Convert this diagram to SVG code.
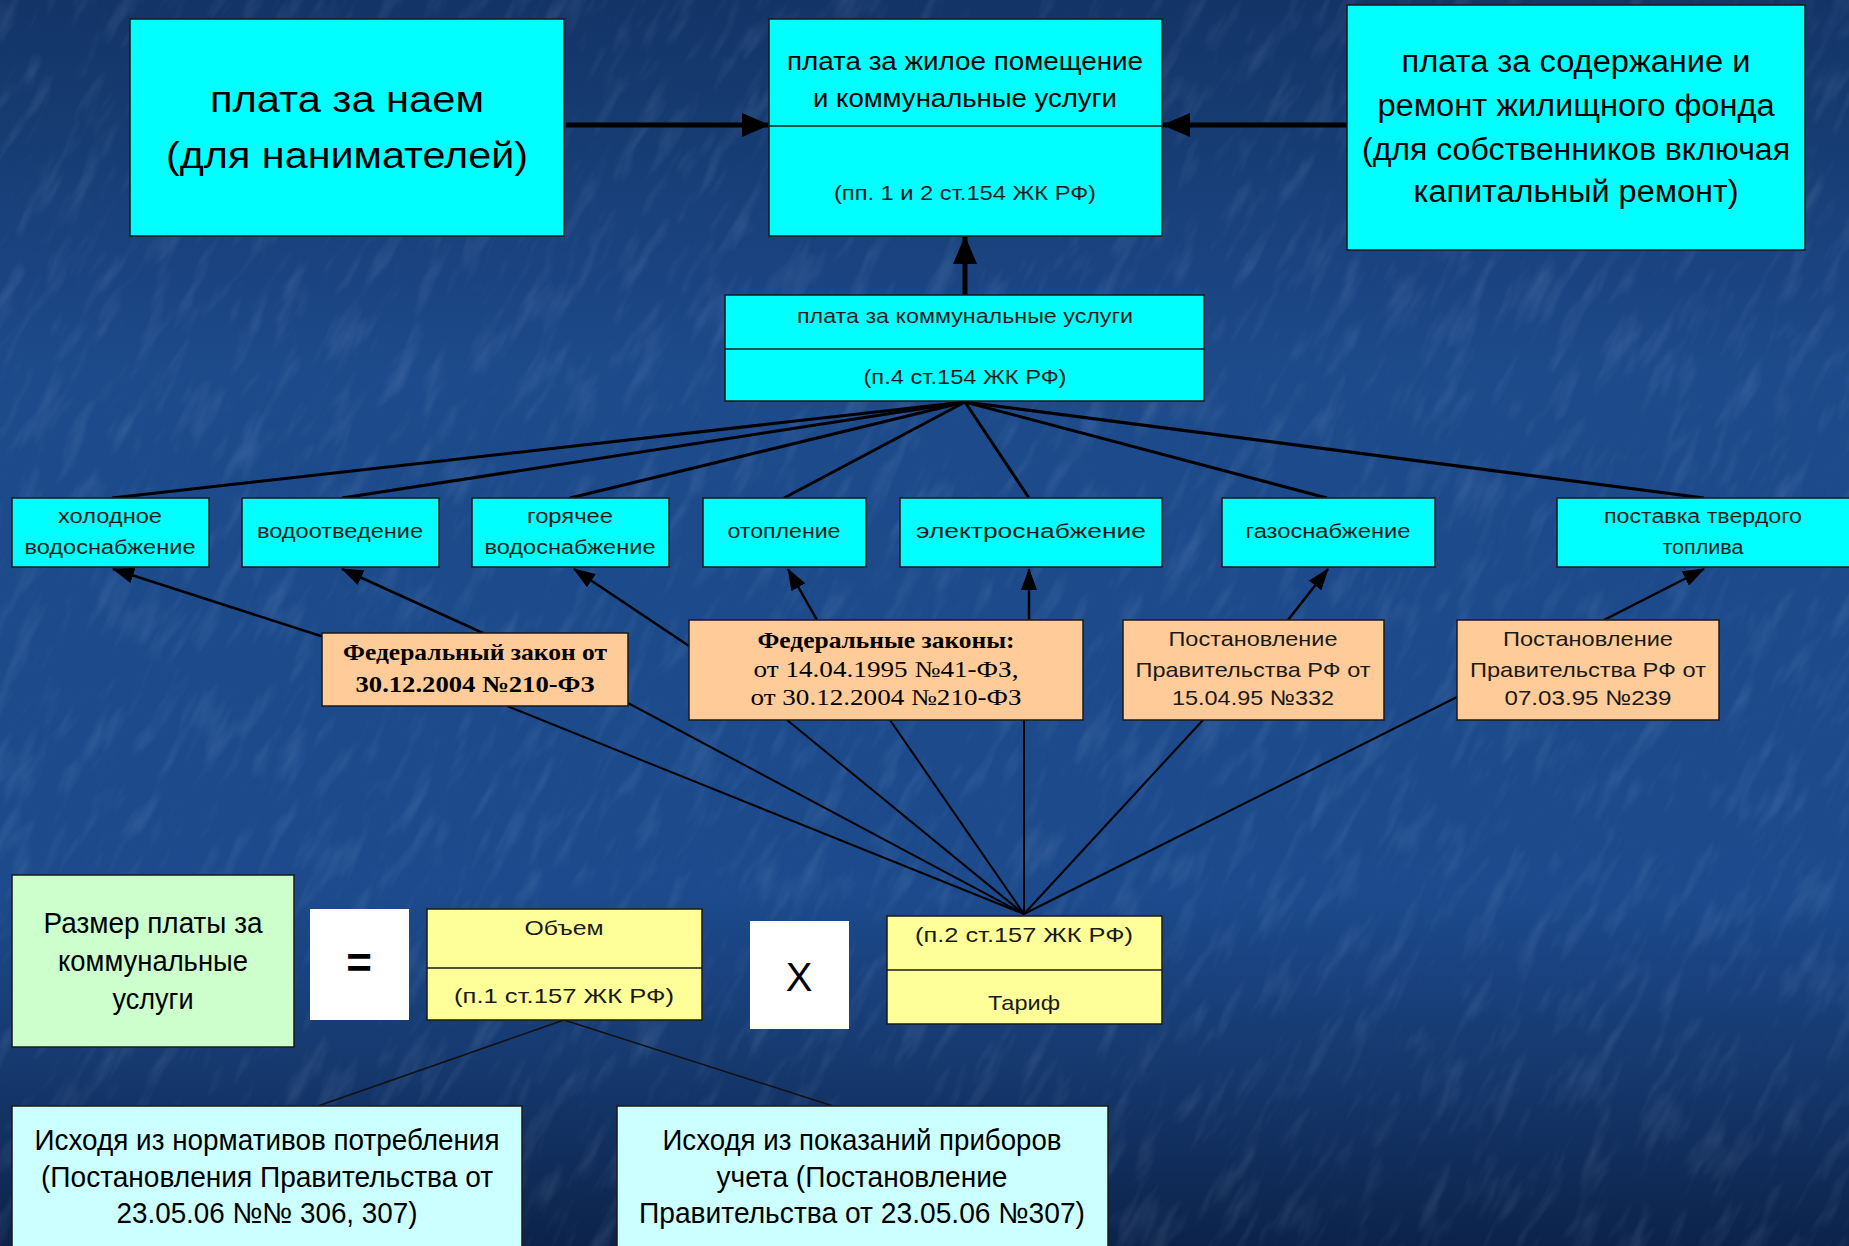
<svg xmlns="http://www.w3.org/2000/svg" width="1849" height="1246" viewBox="0 0 1849 1246">
  <style>
    .box { stroke: #1a1a1a; stroke-width: 1.5; }
    .cyan { fill: #00ffff; }
    .peach { fill: #ffcc99; }
    .yellow { fill: #ffff99; }
    .green { fill: #ccffcc; }
    .lcyan { fill: #ccffff; }
    .white { fill: #ffffff; stroke: none; }
    .div { stroke: #1a1a1a; stroke-width: 1.5; }
    text { font-family: "Liberation Sans", Arial, sans-serif; fill: #000; text-anchor: middle; }
    .light { fill: #1a1a1a; }
    .serif { font-family: "Liberation Serif", "Times New Roman", serif; }
    .thick { stroke: #000; stroke-width: 5; fill: none; }
    .fan { stroke: #000; stroke-width: 3; fill: none; }
    .thin { stroke: #000; stroke-width: 2.5; fill: none; }
    .hub { stroke: #000; stroke-width: 2; fill: none; }
    .fine { stroke: #111; stroke-width: 1.5; fill: none; }
  </style>
  <defs>
    <linearGradient id="bg" x1="0" y1="0" x2="0" y2="1">
      <stop offset="0" stop-color="#133466"/>
      <stop offset="0.3" stop-color="#1d4a8a"/>
      <stop offset="0.72" stop-color="#1c4a8c"/>
      <stop offset="0.85" stop-color="#16396f"/>
      <stop offset="1" stop-color="#0c2349"/>
    </linearGradient>
    <filter id="tex" x="0" y="0" width="100%" height="100%">
      <feTurbulence type="fractalNoise" baseFrequency="0.015 0.06" numOctaves="3" seed="4"/>
      <feColorMatrix type="matrix" values="0 0 0 0 0.6  0 0 0 0 0.75  0 0 0 0 1  0 0 0 1.4 -0.7"/>
    </filter>
    <marker id="ahb" viewBox="0 0 28 24" refX="27" refY="12" markerWidth="28" markerHeight="24" markerUnits="userSpaceOnUse" orient="auto">
      <path d="M0,0 L28,12 L0,24 z" fill="#000"/>
    </marker>
    <marker id="ah" viewBox="0 0 22 16" refX="21" refY="8" markerWidth="22" markerHeight="16" markerUnits="userSpaceOnUse" orient="auto">
      <path d="M0,0 L22,8 L0,16 z" fill="#000"/>
    </marker>
  </defs>

  <rect x="0" y="0" width="1849" height="1246" fill="url(#bg)"/>
  <g transform="rotate(-62 924 623)" opacity="0.2">
    <rect x="-600" y="-600" width="3050" height="2450" filter="url(#tex)"/>
  </g>

  <g id="connectors">
    <line class="thick" x1="566" y1="125" x2="769" y2="125" marker-end="url(#ahb)"/>
    <line class="thick" x1="1347" y1="125" x2="1163" y2="125" marker-end="url(#ahb)"/>
    <line class="thick" x1="965" y1="295" x2="965" y2="237" marker-end="url(#ahb)"/>

    <line class="fan" x1="965" y1="402" x2="112" y2="498"/>
    <line class="fan" x1="965" y1="402" x2="342" y2="498"/>
    <line class="fan" x1="965" y1="402" x2="570" y2="498"/>
    <line class="fan" x1="965" y1="402" x2="784" y2="498"/>
    <line class="fan" x1="965" y1="402" x2="1029" y2="498"/>
    <line class="fan" x1="965" y1="402" x2="1327" y2="498"/>
    <line class="fan" x1="965" y1="402" x2="1704" y2="498"/>

    <line class="thin" x1="324" y1="637" x2="113" y2="569" marker-end="url(#ah)"/>
    <line class="thin" x1="483" y1="633" x2="342" y2="569" marker-end="url(#ah)"/>
    <line class="thin" x1="689" y1="646" x2="574" y2="569" marker-end="url(#ah)"/>
    <line class="thin" x1="817" y1="620" x2="788" y2="569" marker-end="url(#ah)"/>
    <line class="thin" x1="1029" y1="620" x2="1029" y2="569" marker-end="url(#ah)"/>
    <line class="thin" x1="1288" y1="620" x2="1328" y2="569" marker-end="url(#ah)"/>
    <line class="thin" x1="1604" y1="620" x2="1704" y2="569" marker-end="url(#ah)"/>

    <line class="hub" x1="1024" y1="914" x2="507" y2="706"/>
    <line class="hub" x1="1024" y1="914" x2="628" y2="703"/>
    <line class="hub" x1="1024" y1="914" x2="787" y2="720"/>
    <line class="hub" x1="1024" y1="914" x2="890" y2="720"/>
    <line class="hub" x1="1024" y1="914" x2="1024" y2="720"/>
    <line class="hub" x1="1024" y1="914" x2="1203" y2="720"/>
    <line class="hub" x1="1024" y1="914" x2="1457" y2="697"/>

    <line class="fine" x1="564" y1="1020" x2="318" y2="1106"/>
    <line class="fine" x1="564" y1="1020" x2="833" y2="1106"/>
  </g>

  <g id="node-naem">
    <rect class="box cyan" x="130" y="19" width="434" height="217"/>
    <text x="347" y="112" font-size="37" textLength="274" lengthAdjust="spacingAndGlyphs">плата за наем</text>
    <text x="347" y="168" font-size="37" textLength="362" lengthAdjust="spacingAndGlyphs">(для нанимателей)</text>
  </g>

  <g id="node-zhiloe">
    <rect class="box cyan" x="769" y="19" width="393" height="217"/>
    <line class="div" x1="769" y1="126" x2="1162" y2="126"/>
    <text x="965" y="70" font-size="26" textLength="356" lengthAdjust="spacingAndGlyphs">плата за жилое помещение</text>
    <text x="965" y="107" font-size="26" textLength="304" lengthAdjust="spacingAndGlyphs">и коммунальные услуги</text>
    <text class="light" x="965" y="200" font-size="21" textLength="262" lengthAdjust="spacingAndGlyphs">(пп. 1 и 2 ст.154 ЖК РФ)</text>
  </g>

  <g id="node-soderzhanie">
    <rect class="box cyan" x="1347" y="5" width="458" height="245"/>
    <text x="1576" y="72" font-size="31" textLength="349" lengthAdjust="spacingAndGlyphs">плата за содержание и</text>
    <text x="1576" y="116" font-size="31" textLength="397" lengthAdjust="spacingAndGlyphs">ремонт жилищного фонда</text>
    <text x="1576" y="160" font-size="31" textLength="428" lengthAdjust="spacingAndGlyphs">(для собственников включая</text>
    <text x="1576" y="202" font-size="31" textLength="325" lengthAdjust="spacingAndGlyphs">капитальный ремонт)</text>
  </g>

  <g id="node-kommunal">
    <rect class="box cyan" x="725" y="295" width="479" height="106"/>
    <line class="div" x1="725" y1="349" x2="1204" y2="349"/>
    <text class="light" x="965" y="323" font-size="21" textLength="336" lengthAdjust="spacingAndGlyphs">плата за коммунальные услуги</text>
    <text class="light" x="965" y="384" font-size="21" textLength="203" lengthAdjust="spacingAndGlyphs">(п.4 ст.154 ЖК РФ)</text>
  </g>

  <g id="node-holodnoe">
    <rect class="box cyan" x="12" y="498" width="197" height="69"/>
    <text class="light" x="110" y="523" font-size="20" textLength="104" lengthAdjust="spacingAndGlyphs">холодное</text>
    <text class="light" x="110" y="554" font-size="20" textLength="171" lengthAdjust="spacingAndGlyphs">водоснабжение</text>
  </g>
  <g id="node-vodootvedenie">
    <rect class="box cyan" x="242" y="498" width="197" height="69"/>
    <text class="light" x="340" y="538" font-size="20" textLength="166" lengthAdjust="spacingAndGlyphs">водоотведение</text>
  </g>
  <g id="node-goryachee">
    <rect class="box cyan" x="472" y="498" width="197" height="69"/>
    <text class="light" x="570" y="523" font-size="20" textLength="86" lengthAdjust="spacingAndGlyphs">горячее</text>
    <text class="light" x="570" y="554" font-size="20" textLength="171" lengthAdjust="spacingAndGlyphs">водоснабжение</text>
  </g>
  <g id="node-otoplenie">
    <rect class="box cyan" x="703" y="498" width="163" height="69"/>
    <text class="light" x="784" y="538" font-size="20" textLength="113" lengthAdjust="spacingAndGlyphs">отопление</text>
  </g>
  <g id="node-elektro">
    <rect class="box cyan" x="900" y="498" width="262" height="69"/>
    <text class="light" x="1031" y="538" font-size="20" textLength="230" lengthAdjust="spacingAndGlyphs">электроснабжение</text>
  </g>
  <g id="node-gaz">
    <rect class="box cyan" x="1222" y="498" width="213" height="69"/>
    <text class="light" x="1328" y="538" font-size="20" textLength="165" lengthAdjust="spacingAndGlyphs">газоснабжение</text>
  </g>
  <g id="node-toplivo">
    <rect class="box cyan" x="1557" y="498" width="295" height="69"/>
    <text class="light" x="1703" y="523" font-size="20" textLength="198" lengthAdjust="spacingAndGlyphs">поставка твердого</text>
    <text class="light" x="1703" y="554" font-size="20" textLength="81" lengthAdjust="spacingAndGlyphs">топлива</text>
  </g>

  <g id="node-fz210">
    <rect class="box peach" x="322" y="633" width="306" height="73"/>
    <text class="serif" x="475" y="660" font-size="23" font-weight="bold" textLength="264" lengthAdjust="spacingAndGlyphs">Федеральный закон от</text>
    <text class="serif" x="475" y="692" font-size="23" font-weight="bold" textLength="239" lengthAdjust="spacingAndGlyphs">30.12.2004 №210-ФЗ</text>
  </g>
  <g id="node-fz-laws">
    <rect class="box peach" x="689" y="620" width="394" height="100"/>
    <text class="serif" x="886" y="648" font-size="23" font-weight="bold" textLength="257" lengthAdjust="spacingAndGlyphs">Федеральные законы:</text>
    <text class="serif" x="886" y="677" font-size="23" textLength="265" lengthAdjust="spacingAndGlyphs">от 14.04.1995 №41-ФЗ,</text>
    <text class="serif" x="886" y="705" font-size="23" textLength="271" lengthAdjust="spacingAndGlyphs">от 30.12.2004 №210-ФЗ</text>
  </g>
  <g id="node-post332">
    <rect class="box peach" x="1123" y="620" width="261" height="100"/>
    <text class="light" x="1253" y="646" font-size="21" textLength="169" lengthAdjust="spacingAndGlyphs">Постановление</text>
    <text class="light" x="1253" y="677" font-size="21" textLength="235" lengthAdjust="spacingAndGlyphs">Правительства РФ от</text>
    <text class="light" x="1253" y="705" font-size="21" textLength="162" lengthAdjust="spacingAndGlyphs">15.04.95 №332</text>
  </g>
  <g id="node-post239">
    <rect class="box peach" x="1457" y="620" width="262" height="100"/>
    <text class="light" x="1588" y="646" font-size="21" textLength="170" lengthAdjust="spacingAndGlyphs">Постановление</text>
    <text class="light" x="1588" y="677" font-size="21" textLength="236" lengthAdjust="spacingAndGlyphs">Правительства РФ от</text>
    <text class="light" x="1588" y="705" font-size="21" textLength="167" lengthAdjust="spacingAndGlyphs">07.03.95 №239</text>
  </g>

  <g id="node-razmer">
    <rect class="box green" x="12" y="875" width="282" height="172"/>
    <text x="153" y="933" font-size="29" textLength="219" lengthAdjust="spacingAndGlyphs">Размер платы за</text>
    <text x="153" y="971" font-size="29" textLength="190" lengthAdjust="spacingAndGlyphs">коммунальные</text>
    <text x="153" y="1009" font-size="29" textLength="81" lengthAdjust="spacingAndGlyphs">услуги</text>
  </g>
  <g id="node-equals">
    <rect class="white" x="310" y="909" width="99" height="111"/>
    <text x="359" y="978" font-size="44" font-weight="bold">=</text>
  </g>
  <g id="node-obem">
    <rect class="box yellow" x="427" y="909" width="275" height="111"/>
    <line class="div" x1="427" y1="968" x2="702" y2="968"/>
    <text class="light" x="564" y="935" font-size="21" textLength="79" lengthAdjust="spacingAndGlyphs">Объем</text>
    <text class="light" x="564" y="1003" font-size="21" textLength="220" lengthAdjust="spacingAndGlyphs">(п.1 ст.157 ЖК РФ)</text>
  </g>
  <g id="node-times">
    <rect class="white" x="750" y="921" width="99" height="108"/>
    <text x="799" y="991" font-size="40">X</text>
  </g>
  <g id="node-tarif">
    <rect class="box yellow" x="887" y="916" width="275" height="108"/>
    <line class="div" x1="887" y1="970" x2="1162" y2="970"/>
    <text class="light" x="1024" y="942" font-size="21" textLength="218" lengthAdjust="spacingAndGlyphs">(п.2 ст.157 ЖК РФ)</text>
    <text class="light" x="1024" y="1010" font-size="21" textLength="72" lengthAdjust="spacingAndGlyphs">Тариф</text>
  </g>

  <g id="node-normativy">
    <rect class="box lcyan" x="12" y="1106" width="510" height="150"/>
    <text x="267" y="1150" font-size="29" textLength="465" lengthAdjust="spacingAndGlyphs">Исходя из нормативов потребления</text>
    <text x="267" y="1187" font-size="29" textLength="452" lengthAdjust="spacingAndGlyphs">(Постановления Правительства от</text>
    <text x="267" y="1223" font-size="29" textLength="301" lengthAdjust="spacingAndGlyphs">23.05.06 №№ 306, 307)</text>
  </g>
  <g id="node-pribory">
    <rect class="box lcyan" x="617" y="1106" width="491" height="150"/>
    <text x="862" y="1150" font-size="29" textLength="399" lengthAdjust="spacingAndGlyphs">Исходя из показаний приборов</text>
    <text x="862" y="1187" font-size="29" textLength="291" lengthAdjust="spacingAndGlyphs">учета (Постановление</text>
    <text x="862" y="1223" font-size="29" textLength="446" lengthAdjust="spacingAndGlyphs">Правительства от 23.05.06 №307)</text>
  </g>
</svg>
